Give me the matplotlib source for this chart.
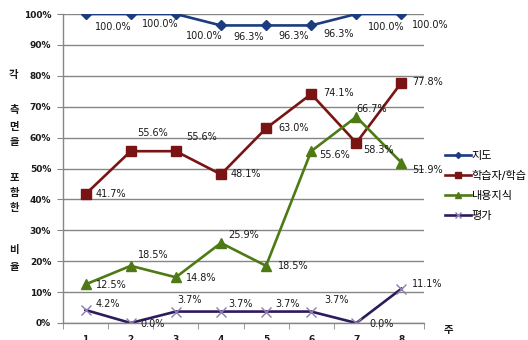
import matplotlib
matplotlib.use("Agg")
import matplotlib.pyplot as plt
import numpy as np

plt.rcParams['font.family'] = ['DejaVu Sans', 'Noto Sans CJK KR']

weeks = ['1', '2', '3', '4', '5', '6', '7', '8']
series_names = ['지도', '학습자/학습', '내용지식', '평가']
guide = [100.0, 100.0, 100.0, 96.3, 96.3, 96.3, 100.0, 100.0]
learner = [41.7, 55.6, 55.6, 48.1, 63.0, 74.1, 58.3, 77.8]
content = [12.5, 18.5, 14.8, 25.9, 18.5, 55.6, 66.7, 51.9]
assess = [4.2, 0.0, 3.7, 3.7, 3.7, 3.7, 0.0, 11.1]
# labels as printed on the chart (first series labels are shifted in the source)
guide_labels = [100.0, 100.0, 100.0, 96.3, 96.3, 96.3, 100.0, 100.0]

# label offsets in pixels (right, down)
offs = [
    [(9, 13), (11, 10), (10, 22), (12, 12), (12, 11), (12, 9), (12, 13), (11, 11)],
    [(10, 0), (7, -18), (10, -14), (10, 0), (12, 0), (12, -1), (7, 7), (11, -1)],
    [(10, 1), (7, -11), (10, 1), (7, -8), (12, 0), (8, 4), (0, -8), (11, 7)],
    [(10, -6), (10, 1), (2, -12), (7, -8), (9, -8), (13, -12), (13, 1), (11, -5)],
]

styles = [
    dict(color='#1B3C7E', marker='D', ms=5, mfc='#1B3C7E', mec='#1B3C7E'),
    dict(color='#7A1414', marker='s', ms=7, mfc='#7A1414', mec='#7A1414'),
    dict(color='#4E7A16', marker='^', ms=7, mfc='#4E7A16', mec='#4E7A16'),
    dict(color='#2E1B5C', marker='x', ms=7, mfc='#8E7CB0', mec='#8E7CB0', mew=1.0),
]

fig = plt.figure(figsize=(5.28, 3.4), dpi=100)
ax = fig.add_axes([63 / 528, 1 - 323 / 340, 361 / 528, 309 / 340])

x = np.arange(len(weeks))
data = [guide, learner, content, assess]
label_vals = [guide_labels, learner, content, assess]
for vals, labs, st, name, off in zip(data, label_vals, styles, series_names, offs):
    ax.plot(x, vals, lw=1.9, label=name, **st)
    for xi, v, lv, (dx, dy) in zip(x, vals, labs, off):
        ax.annotate(f'{lv:.1f}%', (xi, v), xytext=(dx * 0.72, -dy * 0.72),
                    textcoords='offset points', ha='left', va='center',
                    fontsize=7, color='#1a1a1a')

ax.set_xlim(-0.5, 7.5)
ax.set_ylim(0, 100)
ax.set_yticks(range(0, 101, 10))
ax.set_yticklabels([f'{v}%' for v in range(0, 101, 10)], fontsize=6.5,
                   fontweight='bold', color='#1a1a1a')
ax.set_xticks(x)
ax.set_xticklabels(weeks, fontsize=6.5, fontweight='bold', color='#1a1a1a')
ax.set_xticks(np.arange(-0.5, 8, 1), minor=True)
ax.tick_params(axis='x', which='major', length=0, pad=9)
ax.tick_params(axis='x', which='minor', length=4, color='#868686')
ax.tick_params(axis='y', length=4, color='#868686', pad=4.5)
ax.grid(axis='y', color='#868686', lw=1)
ax.set_axisbelow(True)
for s in ['top', 'right']:
    ax.spines[s].set_visible(False)
for s in ['left', 'bottom']:
    ax.spines[s].set_color('#868686')
    ax.spines[s].set_linewidth(1)

# vertical y-axis title, one syllable per line
ylab = [('각', 75), ('측', 110), ('면', 127), ('을', 142), ('포', 178),
        ('함', 193), ('한', 208), ('비', 250), ('율', 267)]
for ch, py in ylab:
    fig.text(14 / 528, 1 - py / 340, ch, ha='center', va='center',
             fontsize=7.5, fontweight='bold', color='#1a1a1a')
fig.text(448 / 528, 1 - 330 / 340, '주', ha='center', va='center',
         fontsize=7.5, fontweight='bold', color='#1a1a1a')

fig.legend(loc='upper left', bbox_to_anchor=(445 / 528, 1 - 151 / 340),
           frameon=False, fontsize=8, handlelength=2.3, handletextpad=0.1,
           labelspacing=0.9, borderaxespad=0, borderpad=0, markerscale=0.6)

fig.savefig('out.png', dpi=100)
